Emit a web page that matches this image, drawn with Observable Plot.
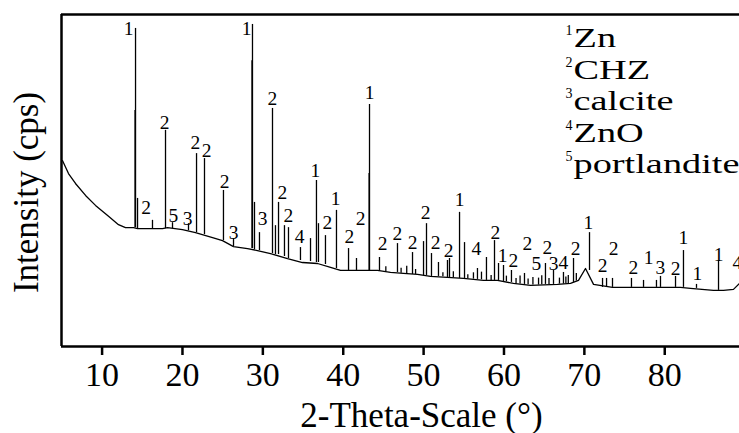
<!DOCTYPE html>
<html>
<head>
<meta charset="utf-8">
<script src="https://cdn.jsdelivr.net/npm/d3@7"></script>
<script src="https://cdn.jsdelivr.net/npm/@observablehq/plot@0.6"></script>
<style>
  html, body { margin: 0; padding: 0; background: #fff; }
  #chart svg { display: block; }
  #chart svg, #chart svg text, #chart svg tspan { font-family: "Liberation Serif", "DejaVu Serif", "Times New Roman", serif !important; }
</style>
</head>
<body>
<div id="chart"></div>
<script>
// Background (diffuse scattering) trace: 2-theta and intensity
const bgTheta = [5.07, 5.82, 6.69, 7.94, 9.18, 10.80, 12.04, 12.91, 13.91, 14.41, 15.77, 17.52, 18.14, 20.0, 21.62, 23.74, 24.98, 26.35, 28.09, 29.33, 30.95, 33.07, 34.93, 36.80, 38.42, 39.66, 43.02, 44.26, 45.88, 47.50, 49.24, 50.86, 52.97, 54.96, 57.45, 59.19, 61.18, 63.30, 66.66, 68.27, 69.27, 70.14, 71.14, 73.50, 76.11, 81.96, 83.20, 86.06, 87.31, 88.55, 89.30];
const bgIntensity = [560, 521, 491, 455, 425, 392, 367, 358, 358, 355, 355, 355, 358, 352, 343, 328, 319, 301, 295, 289, 280, 265, 253, 250, 238, 229, 229, 229, 223, 220, 217, 211, 208, 205, 199, 199, 190, 184, 187, 190, 199, 235, 187, 178, 178, 178, 175, 169, 169, 172, 190];

// Diffraction peaks: position, background level at the foot, peak top
const peakTheta = [14.10, 14.16, 14.41, 16.27, 17.89, 18.76, 20.75, 21.75, 22.74, 25.10, 26.35, 28.65, 28.71, 28.96, 29.58, 31.20, 31.57, 31.95, 32.69, 33.19, 34.68, 35.93, 36.67, 36.92, 37.79, 39.16, 40.66, 41.65, 43.22, 43.27, 44.51, 45.30, 46.75, 47.20, 47.90, 48.62, 49.00, 49.99, 50.36, 50.98, 51.85, 52.40, 52.97, 53.22, 53.70, 54.47, 55.09, 55.50, 56.20, 56.70, 57.20, 57.82, 58.40, 58.82, 59.32, 59.94, 60.30, 60.93, 61.50, 62.00, 62.55, 63.00, 63.60, 64.30, 64.70, 65.16, 65.60, 66.16, 66.90, 67.40, 67.70, 68.00, 68.65, 69.00, 70.64, 72.26, 72.76, 73.50, 75.86, 77.36, 78.97, 79.47, 81.34, 82.33, 83.95, 86.69];
const peakBase = [358, 358, 355, 355, 355, 355, 349, 343, 337, 319, 301, 295, 295, 292, 289, 280, 277, 277, 271, 265, 259, 256, 253, 253, 247, 235, 229, 229, 229, 229, 226, 225, 223, 221, 220, 217, 217, 214, 214, 211, 211, 210, 208, 208, 207, 205, 205, 204, 203, 202, 201, 199, 199, 199, 199, 196, 195, 193, 189, 188, 187, 186, 185, 185, 186, 187, 187, 187, 188, 188, 189, 190, 193, 197, 229, 178, 178, 178, 178, 178, 178, 178, 178, 178, 175, 169];
const peakTop = [711, 958, 446, 380, 651, 373, 370, 581, 566, 470, 325, 861, 970, 434, 343, 717, 364, 434, 364, 358, 298, 325, 500, 370, 334, 410, 295, 265, 521, 729, 268, 240, 310, 236, 242, 283, 232, 316, 370, 280, 253, 222, 259, 265, 225, 404, 313, 216, 222, 235, 224, 268, 214, 319, 250, 244, 212, 229, 205, 212, 220, 203, 208, 206, 213, 250, 205, 229, 206, 223, 209, 214, 265, 220, 343, 205, 205, 205, 205, 199, 199, 211, 211, 289, 187, 259];

// Phase labels above peaks
const labelText = ["1", "2", "5", "3", "2", "2", "2", "2", "3", "1", "3", "2", "2", "2", "4", "1", "2", "1", "2", "2", "1", "2", "2", "2", "2", "2", "2", "1", "4", "2", "1", "2", "2", "5", "2", "3", "4", "2", "1", "2", "2", "2", "1", "3", "2", "1", "1", "1", "4"];
const labelTheta = [13.29, 15.47, 18.88, 20.63, 17.77, 21.62, 22.99, 25.23, 26.35, 27.97, 29.96, 31.20, 32.44, 33.19, 34.56, 36.55, 38.04, 39.04, 40.78, 42.15, 43.27, 44.89, 46.75, 48.62, 50.24, 51.48, 53.10, 54.47, 56.58, 58.94, 59.82, 61.18, 62.92, 64.04, 65.41, 66.16, 67.40, 68.90, 70.51, 72.26, 73.63, 76.11, 77.98, 79.47, 81.34, 82.33, 84.07, 86.69, 89.05];
const labelIntensity = [958, 419, 395, 386, 675, 614, 590, 497, 343, 958, 386, 747, 464, 395, 331, 530, 373, 446, 331, 386, 765, 310, 340, 313, 404, 313, 289, 443, 295, 343, 274, 259, 310, 250, 298, 250, 253, 295, 373, 244, 295, 238, 268, 238, 235, 328, 220, 277, 253];

// Legend
const legendNumbers = ["1", "2", "3", "4", "5"];
const legendNames = ["Zn", "CHZ", "calcite", "ZnO", "portlandite"];

// Axis ticks
const xTicks = [10, 20, 30, 40, 50, 60, 70, 80];
const xDomain = [4.95, 89.3];
const yDomain = [0, 1000];

const background = bgTheta.map((t, i) => ({theta: t, intensity: bgIntensity[i]}));
const peaks = peakTheta.map((t, i) => ({theta: t, base: peakBase[i], top: peakTop[i]}));
const labels = labelTheta.map((t, i) => ({theta: t, intensity: labelIntensity[i], text: labelText[i]}));

const serif = "'Liberation Serif', 'DejaVu Serif', serif";

const chart = Plot.plot({
  width: 739,
  height: 433,
  marginLeft: 61,
  marginRight: 0,
  marginTop: 14,
  marginBottom: 87,
  style: {background: "#fff", color: "#000", fontFamily: serif},
  x: {domain: xDomain},
  y: {domain: yDomain, axis: null},
  marks: [
    Plot.line(background, {x: "theta", y: "intensity", stroke: "#000", strokeWidth: 1.3}),
    Plot.ruleX(peaks, {x: "theta", y1: "base", y2: "top", stroke: "#000", strokeWidth: 1.3}),
    Plot.text(labels, {x: "theta", y: "intensity", text: "text", fontSize: 19.5, fill: "#000"}),
    // frame: left, top and bottom borders
    Plot.ruleX([xDomain[0]], {stroke: "#000", strokeWidth: 2.5}),
    Plot.ruleY([yDomain[0], yDomain[1]], {stroke: "#000", strokeWidth: 2.5}),
    Plot.axisX({ticks: xTicks, tickSize: 9, tickPadding: 6, tickFormat: d => String(d), fontSize: 34, strokeWidth: 2.5, stroke: "#000", fill: "#000", label: null}),
    Plot.text(["2-Theta-Scale (°)"], {frameAnchor: "bottom", dx: 21, dy: 80, fontSize: 35, fill: "#000", lineAnchor: "bottom"}),
    Plot.text(["Intensity (cps)"], {frameAnchor: "left", textAnchor: "middle", dx: -35, dy: 12, rotate: -90, fontSize: 35, fill: "#000"}),
    Plot.text([legendNames.join("\n")], {frameAnchor: "top-left", dx: 512, dy: 10.6, textAnchor: "start", lineAnchor: "top", lineHeight: 1.1667, fontSize: 27, fill: "#000"}),
    Plot.text([legendNumbers.join("\n")], {frameAnchor: "top-left", dx: 511, dy: -1.4, textAnchor: "end", lineAnchor: "top", lineHeight: 2.25, fontSize: 14, fill: "#000"})
  ]
});

const svg = d3.select(chart);
svg.selectAll("text, tspan").style("font-family", serif);
svg.attr("font-family", serif);

// the legend lettering in the reference is horizontally stretched
svg.selectAll("text").each(function() {
  const t = this.textContent;
  if (t.startsWith("ZnCHZ")) {
    const tr = this.getAttribute("transform") || "";
    this.setAttribute("transform", tr + " scale(1.42,1)");
  }
});

document.getElementById("chart").appendChild(chart);
</script>
</body>
</html>
